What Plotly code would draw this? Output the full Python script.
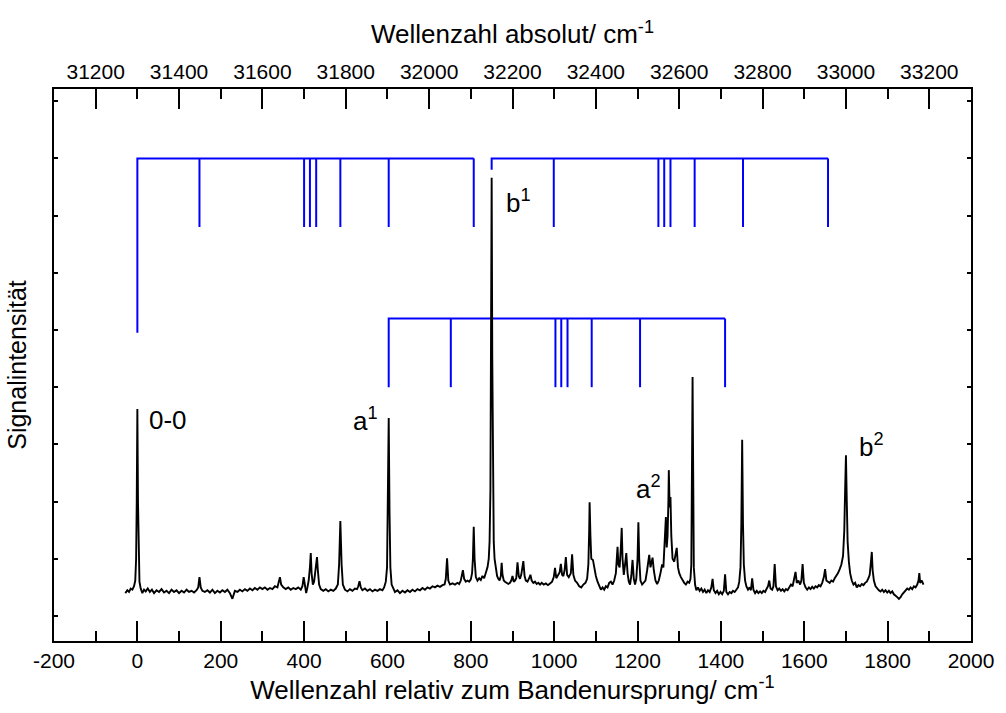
import plotly.graph_objects as go

# Spectrum: wavenumber relative to the band origin (cm^-1) and signal (a.u.)
spec_x = [
    -29, -24, -20, -16, -12, -8, -5, -3, -1.5, 0, 1.5, 3, 5, 8, 12, 16, 20, 25, 30, 35,
    40, 46, 52, 58, 64, 70, 76, 82, 88, 94, 100, 106, 112, 118, 124, 130, 136, 142, 146, 149,
    152, 156, 162, 168, 174, 180, 186, 192, 198, 204, 210, 216, 222, 228, 234, 240, 246, 252, 258, 264,
    270, 276, 282, 288, 294, 300, 306, 312, 318, 324, 330, 336, 340, 342, 345, 350, 356, 362, 368, 374,
    380, 386, 392, 396, 399, 402, 405, 408, 411, 414, 416, 418, 421, 424, 427, 429, 431, 433, 436, 440,
    446, 452, 458, 464, 470, 476, 481, 484, 487, 490, 493, 498, 504, 510, 516, 522, 527, 530, 533, 536,
    540, 546, 552, 558, 564, 570, 576, 582, 588, 592, 596, 599, 601, 603, 605, 607, 610, 614, 618, 624,
    630, 636, 642, 648, 654, 660, 666, 672, 678, 684, 690, 696, 702, 708, 714, 720, 726, 732, 737, 740,
    743, 746, 750, 756, 762, 768, 772, 776, 779, 781, 784, 788, 792, 796, 800, 803, 805, 807, 809, 812,
    816, 820, 824, 828, 832, 836, 840, 843, 845, 847, 848.5, 850, 851.5, 853, 855, 857, 860, 863, 866, 869,
    872, 874, 876, 879, 882, 886, 890, 894, 897, 900, 903, 906, 909, 912, 915, 918, 921, 926, 929, 932,
    936, 940, 943, 946, 950, 954, 958, 962, 966, 970, 975, 980, 985, 990, 995, 999, 1002, 1005, 1009, 1013,
    1016, 1019, 1022, 1025, 1028, 1031, 1035, 1040, 1043, 1046, 1050, 1055, 1060, 1065, 1070, 1075, 1079, 1082, 1084, 1085,
    1087, 1089, 1093, 1096, 1100, 1104, 1108, 1112, 1116, 1120, 1124, 1128, 1132, 1136, 1140, 1144, 1148, 1150, 1152, 1154,
    1157, 1160, 1162, 1164, 1167, 1170, 1173, 1176, 1179, 1182, 1185, 1188, 1191, 1194, 1197, 1200, 1202, 1204, 1207, 1211,
    1215, 1219, 1223, 1226, 1228, 1231, 1234, 1236, 1239, 1243, 1247, 1251, 1255, 1259, 1262, 1265, 1268, 1270, 1272, 1274,
    1275, 1277, 1279, 1281, 1284, 1288, 1291, 1294, 1297, 1300, 1304, 1308, 1312, 1316, 1320, 1324, 1327, 1329, 1331, 1332,
    1333.5, 1335, 1338, 1341, 1345, 1349, 1353, 1357, 1361, 1365, 1369, 1373, 1377, 1380, 1383, 1387, 1391, 1395, 1399, 1403,
    1407, 1410, 1413, 1417, 1421, 1425, 1429, 1433, 1437, 1441, 1444, 1447, 1449, 1451, 1453, 1455, 1458, 1461, 1465, 1469,
    1472, 1475, 1478, 1482, 1486, 1490, 1494, 1498, 1502, 1506, 1510, 1513, 1516, 1519, 1523, 1526, 1529, 1532, 1536, 1540,
    1544, 1548, 1552, 1556, 1560, 1564, 1568, 1572, 1575, 1579, 1582, 1586, 1590, 1593, 1596, 1599, 1603, 1607, 1611, 1615,
    1619, 1623, 1627, 1631, 1635, 1639, 1643, 1647, 1650, 1653, 1657, 1661, 1665, 1669, 1673, 1677, 1681, 1685, 1689, 1693,
    1696, 1698, 1700, 1702, 1704, 1707, 1710, 1714, 1718, 1722, 1726, 1730, 1734, 1738, 1742, 1746, 1750, 1754, 1757, 1760,
    1762, 1764, 1767, 1771, 1775, 1779, 1783, 1787, 1791, 1795, 1799, 1803, 1807, 1811, 1815, 1819, 1823, 1827, 1831, 1835,
    1839, 1843, 1847, 1851, 1855, 1859, 1863, 1867, 1871, 1874, 1876, 1878, 1882, 1886,
]
spec_y = [
    0.40, 0.45, 0.42, 0.48, 0.46, 0.52, 0.62, 1.00, 2.00, 3.62, 2.00, 1.00, 0.60, 0.48, 0.40, 0.46, 0.43, 0.48, 0.42, 0.46,
    0.40, 0.45, 0.42, 0.47, 0.41, 0.44, 0.40, 0.46, 0.42, 0.45, 0.40, 0.44, 0.41, 0.46, 0.42, 0.44, 0.41, 0.45, 0.50, 0.68,
    0.50, 0.44, 0.42, 0.45, 0.41, 0.46, 0.40, 0.44, 0.41, 0.45, 0.42, 0.46, 0.40, 0.30, 0.44, 0.42, 0.46, 0.43, 0.47, 0.44,
    0.48, 0.45, 0.49, 0.46, 0.50, 0.47, 0.50, 0.46, 0.49, 0.47, 0.52, 0.50, 0.62, 0.68, 0.55, 0.50, 0.47, 0.50, 0.46, 0.49,
    0.47, 0.50, 0.46, 0.52, 0.68, 0.52, 0.40, 0.50, 0.62, 0.85, 1.10, 0.75, 0.55, 0.60, 0.75, 0.92, 1.03, 0.80, 0.55, 0.47,
    0.44, 0.47, 0.43, 0.46, 0.44, 0.48, 0.55, 0.90, 1.66, 0.90, 0.55, 0.46, 0.43, 0.47, 0.44, 0.48, 0.47, 0.52, 0.61, 0.50,
    0.45, 0.48, 0.44, 0.47, 0.43, 0.46, 0.44, 0.47, 0.45, 0.50, 0.60, 0.85, 1.80, 3.46, 1.80, 0.85, 0.55, 0.47, 0.42, 0.45,
    0.40, 0.44, 0.41, 0.45, 0.42, 0.46, 0.43, 0.47, 0.45, 0.49, 0.46, 0.50, 0.48, 0.52, 0.50, 0.53, 0.51, 0.54, 0.55, 0.65,
    1.01, 0.62, 0.55, 0.57, 0.55, 0.58, 0.56, 0.62, 0.72, 0.80, 0.65, 0.60, 0.62, 0.60, 0.64, 0.75, 1.00, 1.56, 1.00, 0.68,
    0.62, 0.66, 0.63, 0.70, 0.66, 0.74, 0.85, 1.00, 1.30, 2.20, 4.50, 7.66, 4.50, 2.20, 1.30, 1.00, 0.80, 0.70, 0.65, 0.62,
    0.70, 0.93, 0.72, 0.62, 0.60, 0.58, 0.56, 0.58, 0.62, 0.70, 0.60, 0.62, 0.66, 0.94, 0.70, 0.65, 0.72, 0.96, 0.70, 0.62,
    0.60, 0.66, 0.72, 0.62, 0.58, 0.60, 0.56, 0.58, 0.55, 0.58, 0.55, 0.57, 0.54, 0.57, 0.60, 0.68, 0.84, 0.66, 0.70, 0.76,
    0.91, 0.72, 0.70, 0.80, 1.03, 0.72, 0.68, 0.75, 1.08, 0.72, 0.62, 0.58, 0.52, 0.50, 0.55, 0.58, 0.65, 0.90, 1.50, 1.99,
    1.40, 1.00, 0.98, 0.85, 0.70, 0.60, 0.52, 0.46, 0.50, 0.46, 0.52, 0.50, 0.58, 0.60, 0.55, 0.62, 0.75, 1.05, 1.21, 0.90,
    0.85, 1.20, 1.54, 1.00, 0.72, 0.90, 1.10, 0.75, 0.60, 0.55, 0.70, 0.98, 0.65, 0.55, 0.65, 1.00, 1.64, 1.00, 0.62, 0.55,
    0.58, 0.62, 0.80, 0.98, 1.07, 0.85, 0.95, 1.02, 0.80, 0.62, 0.56, 0.62, 0.75, 0.90, 0.85, 1.20, 1.73, 1.20, 1.40, 2.00,
    2.55, 1.90, 2.08, 1.40, 1.00, 0.95, 1.05, 1.19, 0.85, 0.75, 0.68, 0.62, 0.58, 0.55, 0.60, 0.58, 0.65, 0.90, 2.50, 4.18,
    2.50, 0.85, 0.55, 0.45, 0.50, 0.44, 0.48, 0.42, 0.46, 0.40, 0.45, 0.42, 0.50, 0.65, 0.45, 0.40, 0.44, 0.38, 0.42, 0.38,
    0.44, 0.73, 0.42, 0.38, 0.42, 0.40, 0.44, 0.42, 0.46, 0.50, 0.60, 0.85, 1.60, 3.08, 1.60, 0.90, 0.62, 0.52, 0.46, 0.50,
    0.45, 0.66, 0.46, 0.40, 0.44, 0.40, 0.43, 0.40, 0.44, 0.42, 0.48, 0.52, 0.62, 0.48, 0.46, 0.52, 0.91, 0.52, 0.45, 0.48,
    0.44, 0.47, 0.43, 0.47, 0.45, 0.50, 0.55, 0.52, 0.62, 0.77, 0.58, 0.62, 0.55, 0.62, 0.91, 0.58, 0.50, 0.46, 0.50, 0.47,
    0.51, 0.48, 0.52, 0.50, 0.54, 0.52, 0.58, 0.68, 0.82, 0.62, 0.60, 0.58, 0.62, 0.60, 0.66, 0.70, 0.75, 0.82, 0.90, 1.05,
    1.50, 2.20, 2.81, 2.00, 1.30, 0.95, 0.75, 0.62, 0.55, 0.58, 0.50, 0.54, 0.52, 0.56, 0.54, 0.58, 0.60, 0.66, 0.72, 0.95,
    1.12, 0.80, 0.62, 0.52, 0.48, 0.45, 0.43, 0.46, 0.42, 0.45, 0.41, 0.44, 0.40, 0.43, 0.38, 0.36, 0.33, 0.30, 0.33, 0.38,
    0.42, 0.45, 0.48, 0.46, 0.50, 0.47, 0.52, 0.50, 0.55, 0.62, 0.75, 0.58, 0.62, 0.55,
]

# Assignment combs: progression origins and the fundamental offsets (cm^-1)
comb_origins = [0, 850, 603]
comb_offsets = [149, 400, 414, 429, 487, 603, 807]
# Vertical levels of each comb: bar height, tick bottom, origin-line bottom
comb_bar_y = [8.0, 8.0, 5.2]
comb_tick_y = [6.8, 6.8, 4.0]
comb_origin_bottom = [4.95, 7.8, 4.0]

# Band labels
label_text = ["0-0", "a<sup>1</sup>", "b<sup>1</sup>", "a<sup>2</sup>", "b<sup>2</sup>"]
label_x = [23, 582, 879, 1192, 1727]
label_y = [3.43, 3.43, 7.25, 2.25, 2.98]
label_anchor = ["left", "right", "left", "left", "left"]

# Axis tick values and labels
x_ticks = list(range(-200, 2001, 200))
x_ticktext = [str(v) for v in x_ticks]
abs_ticks = list(range(31200, 33201, 200))
abs_ticktext = [str(v) for v in abs_ticks]
abs_offset = 31300

FONT = "Liberation Sans, Arial, sans-serif"
BLUE = "#0000FF"

fig = go.Figure()

# Blue assignment combs
for origin, bar_y, tick_y, ob in zip(comb_origins, comb_bar_y, comb_tick_y, comb_origin_bottom):
    xs, ys = [], []
    last = origin + comb_offsets[-1]
    xs += [origin, origin, last, None]
    ys += [ob, bar_y, bar_y, None]
    for off in comb_offsets:
        xs += [origin + off, origin + off, None]
        ys += [bar_y, tick_y, None]
    fig.add_trace(go.Scatter(x=xs, y=ys, mode="lines",
                             line=dict(color=BLUE, width=2), hoverinfo="skip",
                             showlegend=False))

# Spectrum
fig.add_trace(go.Scatter(x=spec_x, y=spec_y, mode="lines",
                         line=dict(color="black", width=1.9), showlegend=False))

# Dummy trace to activate the absolute-wavenumber axis
fig.add_trace(go.Scatter(x=[abs_offset], y=[None], xaxis="x2", mode="lines",
                         showlegend=False, hoverinfo="skip"))

for t, x, y, a in zip(label_text, label_x, label_y, label_anchor):
    fig.add_annotation(x=x, y=y, xref="x", yref="y", text=t, showarrow=False,
                       xanchor=a, yanchor="middle",
                       font=dict(family=FONT, size=26, color="black"))

axis_common = dict(showgrid=False, zeroline=False, showline=True,
                   linecolor="black", linewidth=2, ticks="inside",
                   tickcolor="black", tickwidth=2,
                   tickfont=dict(family=FONT, size=21, color="black"))

fig.update_layout(
    width=1006, height=713,
    margin=dict(l=54, r=26, t=89, b=72),
    paper_bgcolor="white", plot_bgcolor="white",
    font=dict(family=FONT, color="black"),
    xaxis=dict(range=[-200, 2000], tickvals=x_ticks, ticktext=x_ticktext, ticklen=20,
               minor=dict(dtick=100, tick0=0, ticklen=10, tickwidth=2,
                          ticks="inside", tickcolor="black"),
               title=dict(text="Wellenzahl relativ zum Bandenursprung/ cm<sup>-1</sup>",
                          font=dict(family=FONT, size=26), standoff=6),
               **axis_common),
    xaxis2=dict(range=[-200 + abs_offset, 2000 + abs_offset], overlaying="x",
                side="top", tickvals=abs_ticks, ticktext=abs_ticktext, ticklen=20,
                minor=dict(dtick=100, tick0=31200, ticklen=10, tickwidth=2,
                           ticks="inside", tickcolor="black"),
                title=dict(text="Wellenzahl absolut/ cm<sup>-1</sup>",
                           font=dict(family=FONT, size=26), standoff=8),
                **axis_common),
    yaxis=dict(range=[-0.437, 9.213], dtick=1, tick0=0, ticklen=4,
               showticklabels=False, mirror="ticks",
               title=dict(text="Signalintensität", font=dict(family=FONT, size=25),
                          standoff=18),
               **axis_common),
)

fig.write_html("out.html")
